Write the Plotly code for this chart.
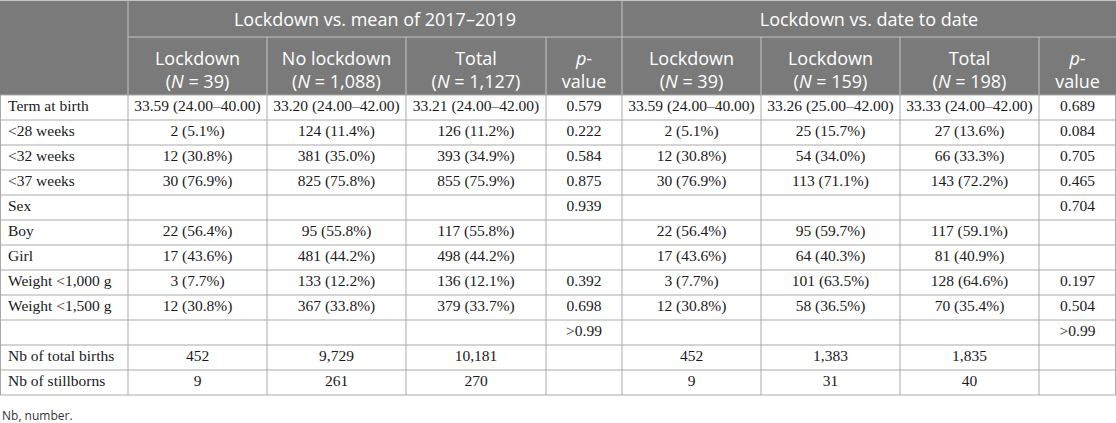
import plotly.graph_objects as go

W, H = 1116, 423

group_headers = ["Lockdown vs. mean of 2017–2019", "Lockdown vs. date to date"]
sub_line1 = ["", "Lockdown", "No lockdown", "Total", "<i>p</i>-",
             "Lockdown", "Lockdown", "Total", "<i>p</i>-"]
sub_line2 = ["", "(<i>N</i> = 39)", "(<i>N</i> = 1,088)", "(<i>N</i> = 1,127)", "value",
             "(<i>N</i> = 39)", "(<i>N</i> = 159)", "(<i>N</i> = 198)", "value"]

row_labels = ["Term at birth", "<28 weeks", "<32 weeks", "<37 weeks", "Sex", "Boy", "Girl",
              "Weight <1,000 g", "Weight <1,500 g", "", "Nb of total births", "Nb of stillborns"]
lockdown_a = ["33.59 (24.00–40.00)", "2 (5.1%)", "12 (30.8%)", "30 (76.9%)", "", "22 (56.4%)",
              "17 (43.6%)", "3 (7.7%)", "12 (30.8%)", "", "452", "9"]
no_lockdown = ["33.20 (24.00–42.00)", "124 (11.4%)", "381 (35.0%)", "825 (75.8%)", "", "95 (55.8%)",
               "481 (44.2%)", "133 (12.2%)", "367 (33.8%)", "", "9,729", "261"]
total_a = ["33.21 (24.00–42.00)", "126 (11.2%)", "393 (34.9%)", "855 (75.9%)", "", "117 (55.8%)",
           "498 (44.2%)", "136 (12.1%)", "379 (33.7%)", "", "10,181", "270"]
p_a = ["0.579", "0.222", "0.584", "0.875", "0.939", "", "", "0.392", "0.698", ">0.99", "", ""]
lockdown_b = ["33.59 (24.00–40.00)", "2 (5.1%)", "12 (30.8%)", "30 (76.9%)", "", "22 (56.4%)",
              "17 (43.6%)", "3 (7.7%)", "12 (30.8%)", "", "452", "9"]
lockdown_c = ["33.26 (25.00–42.00)", "25 (15.7%)", "54 (34.0%)", "113 (71.1%)", "", "95 (59.7%)",
              "64 (40.3%)", "101 (63.5%)", "58 (36.5%)", "", "1,383", "31"]
total_b = ["33.33 (24.00–42.00)", "27 (13.6%)", "66 (33.3%)", "143 (72.2%)", "", "117 (59.1%)",
           "81 (40.9%)", "128 (64.6%)", "70 (35.4%)", "", "1,835", "40"]
p_b = ["0.689", "0.084", "0.705", "0.465", "0.704", "", "", "0.197", "0.504", ">0.99", "", ""]
footnote = "Nb, number."

columns = [row_labels, lockdown_a, no_lockdown, total_a, p_a,
           lockdown_b, lockdown_c, total_b, p_b]

# ---- layout geometry (pixels) ----
col_widths = [128, 139, 139, 140, 76, 139, 139, 139, 77]
group_span = [(1, 4), (5, 8)]          # column index ranges of the two group headers
top_h = 37        # group-header row
sub_h = 58        # sub-header row
row_h = 25        # body rows
label_pad = 8

HDR = "#7a7a7a"
HDR_LINE = "#c4c4c4"
BODY_LINE = "#a9a9a9"
SANS = "Open Sans"
SERIF = "Liberation Serif"

edges = [0]
for w in col_widths:
    edges.append(edges[-1] + w)
centers = [(edges[i] + edges[i + 1]) / 2 for i in range(len(col_widths))]
body_top = top_h + sub_h
n_rows = len(row_labels)
row_edges = [body_top + i * row_h for i in range(n_rows + 1)]
row_centers = [body_top + (i + 0.5) * row_h for i in range(n_rows)]
table_bottom = row_edges[-1]

fig = go.Figure()
shapes = []

# header background
shapes.append(dict(type="rect", x0=edges[0], x1=edges[-1], y0=0, y1=body_top,
                   fillcolor=HDR, line=dict(width=0), layer="below"))
# header lines
shapes.append(dict(type="line", x0=0, x1=edges[-1], y0=0.5, y1=0.5,
                   line=dict(color=HDR_LINE, width=1)))
shapes.append(dict(type="line", x0=edges[1], x1=edges[-1], y0=top_h, y1=top_h,
                   line=dict(color=HDR_LINE, width=1)))
for i in range(1, len(edges) - 1):
    y0 = 0 if i in (group_span[0][0], group_span[1][0]) else top_h
    shapes.append(dict(type="line", x0=edges[i], x1=edges[i], y0=y0, y1=body_top,
                       line=dict(color=HDR_LINE, width=1)))
# body lines
for y in row_edges:
    shapes.append(dict(type="line", x0=0, x1=edges[-1], y0=y, y1=y,
                       line=dict(color=BODY_LINE, width=1)))
for i in range(0, len(edges)):
    x = min(max(edges[i], 0.5), edges[-1] - 0.5)
    shapes.append(dict(type="line", x0=x, x1=x, y0=body_top, y1=table_bottom,
                       line=dict(color=BODY_LINE, width=1)))

# group headers
for (a, b), txt in zip(group_span, group_headers):
    fig.add_trace(go.Scatter(
        x=[(edges[a] + edges[b + 1]) / 2], y=[top_h / 2 + 3], mode="text", text=[txt],
        textposition="middle center", hoverinfo="skip",
        textfont=dict(family=SANS, size=18, color="white")))

# sub headers (two lines)
fig.add_trace(go.Scatter(
    x=centers, y=[top_h + 23] * len(centers), mode="text", text=sub_line1,
    textposition="middle center", hoverinfo="skip",
    textfont=dict(family=SANS, size=18, color="white")))
fig.add_trace(go.Scatter(
    x=centers, y=[top_h + 46] * len(centers), mode="text", text=sub_line2,
    textposition="middle center", hoverinfo="skip",
    textfont=dict(family=SANS, size=18, color="white")))

# body cells
for ci, vals in enumerate(columns):
    if ci == 0:
        xs = [edges[0] + label_pad] * n_rows
        pos = "middle right"
    else:
        xs = [centers[ci]] * n_rows
        pos = "middle center"
    fig.add_trace(go.Scatter(
        x=xs, y=row_centers, mode="text", text=vals, textposition=pos,
        hoverinfo="skip", textfont=dict(family=SERIF, size=15.5, color="#1a1a1a")))

fig.add_annotation(
    text=footnote, x=0, y=table_bottom + 20, xref="x", yref="y",
    xanchor="left", yanchor="middle", showarrow=False,
    font=dict(family=SANS, size=12, color="#333333"))

fig.update_layout(
    width=W, height=H,
    margin=dict(l=0, r=0, t=0, b=0),
    paper_bgcolor="white", plot_bgcolor="white",
    showlegend=False,
    shapes=shapes,
    xaxis=dict(range=[0, W], visible=False, fixedrange=True),
    yaxis=dict(range=[H, 0], visible=False, fixedrange=True),
)

fig.write_html(
    "out.html",
    config={"displayModeBar": False},
    post_script="document.body.style.margin='0';document.body.style.padding='0';"
                "document.body.style.overflow='hidden';",
)
